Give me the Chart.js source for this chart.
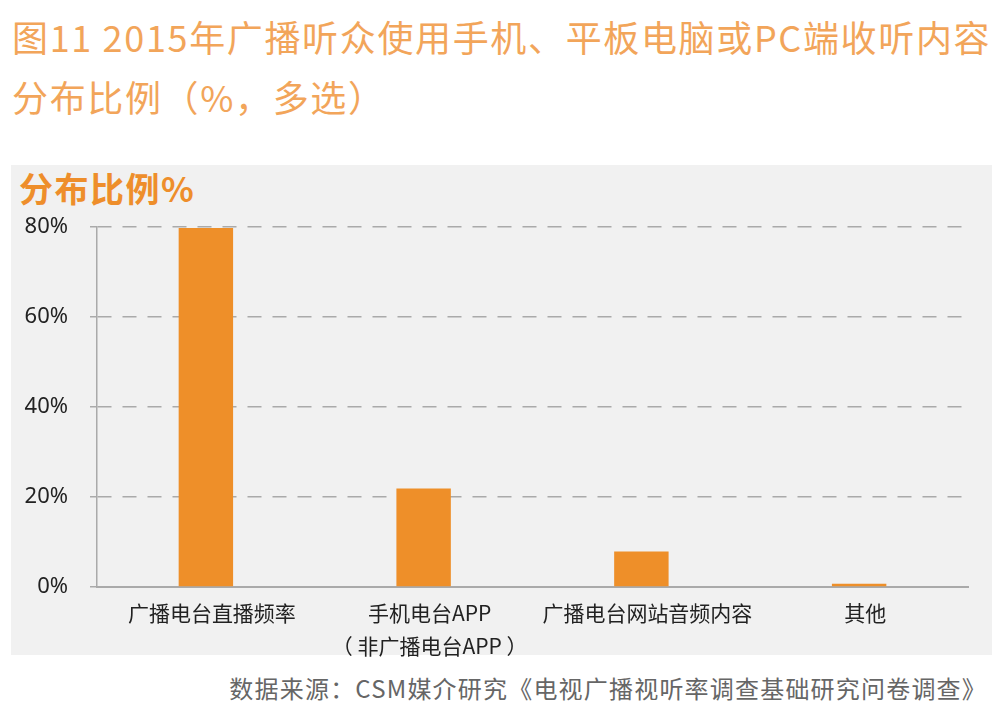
<!DOCTYPE html>
<html>
<head>
<meta charset="utf-8">
<script src="https://cdn.jsdelivr.net/npm/chart.js@4"></script>
<style>
  body { margin: 0; width: 1002px; height: 711px; background: #fff; position: relative; overflow: hidden;
         font-family: "Noto Sans CJK SC", "Noto Sans", sans-serif; }
  #title { position: absolute; left: 12px; top: 6px; font-size: 36px; line-height: 60px; color: #f2a55a; letter-spacing: 1.65px; white-space: nowrap; }
  #panel { position: absolute; left: 11px; top: 165px; width: 981px; height: 490px; background: #f1f1f1; }
  #ytitle { position: absolute; left: 19px; top: 166px; font-size: 34px; font-weight: bold; color: #ee8e2b; line-height: 44px; letter-spacing: 1.5px; }
  #source { position: absolute; right: 15px; top: 670px; font-size: 24px; color: #666; line-height: 36px; letter-spacing: 1.2px; white-space: nowrap; }
  #wrap { position: absolute; left: 0; top: 0; width: 1002px; height: 711px; }
</style>
</head>
<body>
<div id="title">图11 2015年广播听众使用手机、平板电脑或PC端收听内容<br>分布比例（%，多选）</div>
<div id="panel"></div>
<div id="ytitle">分布比例%</div>
<div id="source">数据来源：CSM媒介研究《电视广播视听率调查基础研究问卷调查》</div>
<div id="wrap"><canvas id="myChart"></canvas></div>
<script>
// chart data
const categories = [
  "广播电台直播频率",
  ["手机电台APP", "（ 非广播电台APP ）"],
  "广播电台网站音频内容",
  "其他",
];
const shares = [79.8, 21.9, 7.9, 0.7];
const yTicks = [0, 20, 40, 60, 80];

let ctx = document.getElementById("myChart").getContext("2d");

const myChart = new Chart(ctx, {
  type: "bar",
  data: {
    labels: categories,
    datasets: [
      {
        label: "分布比例",
        data: shares,
        backgroundColor: "#ee8f29",
        borderWidth: 0,
        barPercentage: 0.25,
        categoryPercentage: 1,
      },
    ],
  },
  options: {
    responsive: true,
    maintainAspectRatio: false,
    animation: false,
    layout: {
      padding: { top: 227, right: 34, bottom: 0, left: 0 },
    },
    plugins: {
      legend: { display: false },
      tooltip: { enabled: false },
    },
    scales: {
      x: {
        grid: { display: false, drawTicks: false },
        border: { display: true, color: "#aaaaaa", width: 2 },
        ticks: {
          color: "#222",
          padding: 10,
          labelOffset: 6,
          maxRotation: 0,
          autoSkip: false,
          font: { family: "Noto Sans CJK SC", size: 21, lineHeight: 1.55 },
        },
        afterFit: (s) => {
          s.height = 711 - 587;
        },
      },
      y: {
        min: 0,
        max: 80,
        afterBuildTicks: (s) => {
          s.ticks = yTicks.map((v) => ({ value: v }));
        },
        grid: {
          color: "#aaaaaa",
          lineWidth: 1.5,
          drawTicks: true,
          tickLength: 7,
          tickBorderDash: [],
        },
        border: { display: true, color: "#aaaaaa", width: 1.5, dash: [14, 11] },
        ticks: {
          color: "#222",
          padding: 22,
          callback: (v) => v + "%",
          font: { family: "Noto Sans", size: 22 },
        },
        afterFit: (s) => {
          s.width = 97;
        },
      },
    },
  },
});
</script>
</body>
</html>
